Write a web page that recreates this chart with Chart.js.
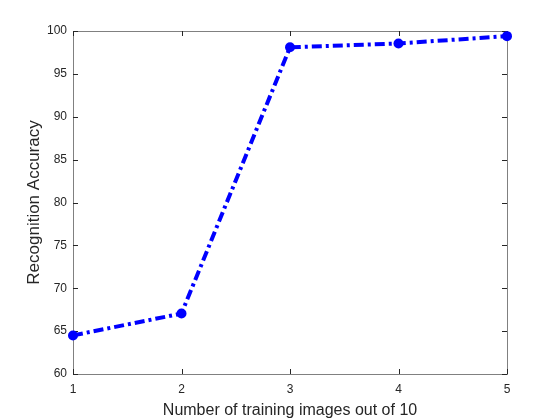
<!DOCTYPE html>
<html>
<head>
<meta charset="utf-8">
<script src="https://cdn.jsdelivr.net/npm/chart.js@4"></script>
<style>
  html, body { margin: 0; padding: 0; background: #fff; }
  #wrap { width: 560px; height: 420px; }
</style>
</head>
<body>
<div id="wrap"><canvas id="myChart" width="560" height="420"></canvas></div>
<script>
const trainingImages = [1, 2, 3, 4, 5];
const accuracy = [64.5, 67.05, 98.1, 98.55, 99.4];
const yTicks = [60, 65, 70, 75, 80, 85, 90, 95, 100];

const axisColor = '#808080';
const textColor = '#262626';
const fontFamily = 'Arial, "Liberation Sans", Helvetica, sans-serif';

// MATLAB-style box with ticks pointing inward on all four sides
const boxTicks = {
  id: 'boxTicks',
  beforeDatasetsDraw(chart) {
    const { ctx, chartArea: a, scales: { x, y } } = chart;
    const len = 5;
    ctx.save();
    ctx.strokeStyle = axisColor;
    ctx.lineWidth = 1;
    ctx.strokeRect(a.left + 0.5, a.top + 0.5, a.right - a.left, a.bottom - a.top);
    ctx.strokeStyle = textColor;
    ctx.beginPath();
    x.ticks.forEach(t => {
      const px = Math.round(x.getPixelForValue(t.value)) + 0.5;
      ctx.moveTo(px, a.bottom); ctx.lineTo(px, a.bottom - len);
      ctx.moveTo(px, a.top); ctx.lineTo(px, a.top + len);
    });
    y.ticks.forEach(t => {
      const py = Math.round(y.getPixelForValue(t.value)) + 0.5;
      ctx.moveTo(a.left, py); ctx.lineTo(a.left + len, py);
      ctx.moveTo(a.right, py); ctx.lineTo(a.right - len, py);
    });
    ctx.stroke();
    ctx.restore();
  }
};

const ctx = document.getElementById('myChart').getContext('2d');
new Chart(ctx, {
  type: 'line',
  data: {
    datasets: [{
      data: trainingImages.map((v, i) => ({ x: v, y: accuracy[i] })),
      borderColor: '#0000ff',
      backgroundColor: '#0000ff',
      borderWidth: 4,
      borderDash: [10, 4, 3, 4],
      pointRadius: 5,
      pointBorderWidth: 0,
      pointHoverRadius: 5,
      tension: 0,
      fill: false,
      clip: false
    }]
  },
  options: {
    responsive: false,
    animation: false,
    events: [],
    layout: { padding: { top: 31, right: 53, left: 0, bottom: 0 } },
    plugins: { legend: { display: false }, tooltip: { enabled: false } },
    scales: {
      x: {
        type: 'linear',
        min: 1, max: 5,
        border: { display: false },
        grid: { display: false, drawTicks: false },
        afterBuildTicks: s => { s.ticks = trainingImages.map(v => ({ value: v })); },
        afterFit: s => { s.height = 46; },
        ticks: {
          color: textColor,
          padding: 8,
          font: { family: fontFamily, size: 12 }
        },
        title: {
          display: true,
          text: 'Number of training images out of 10',
          color: textColor,
          padding: { top: 1, bottom: 0 },
          font: { family: fontFamily, size: 16 }
        }
      },
      y: {
        min: 60, max: 100,
        border: { display: false },
        grid: { display: false, drawTicks: false },
        afterBuildTicks: s => { s.ticks = yTicks.map(v => ({ value: v })); },
        afterFit: s => { s.width = 73; },
        ticks: {
          color: textColor,
          padding: 6,
          font: { family: fontFamily, size: 12 }
        },
        title: {
          display: true,
          text: 'Recognition Accuracy',
          color: textColor,
          padding: { top: 24, bottom: 0 },
          font: { family: fontFamily, size: 17 }
        }
      }
    }
  },
  plugins: [boxTicks]
});
</script>
</body>
</html>
